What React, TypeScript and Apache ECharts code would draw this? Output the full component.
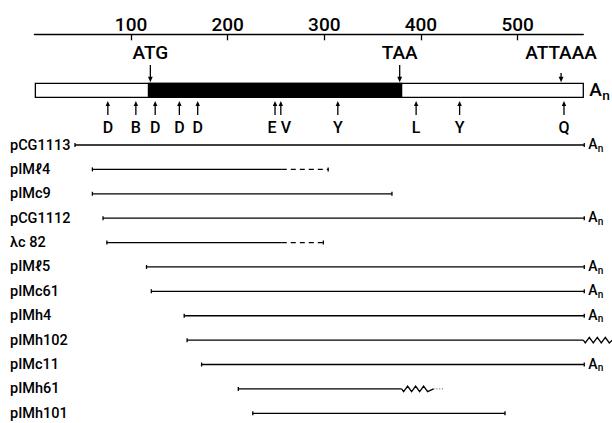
import React, { useEffect, useRef } from "react";
import * as echarts from "echarts";

// ---- data ----
const axisMin = 0;
const axisMax = 568;
const tickValues = [100, 200, 300, 400, 500];

const mrnaStart = 1;
const cdsStart = 118;
const cdsEnd = 380;
const mrnaEnd = 568;

const landmarkNames = ["ATG", "TAA", "ATTAAA"];
const landmarkPos = [120, 378, 545];

const siteNames = ["D", "B", "D", "D", "D", "E", "V", "Y", "L", "Y", "Q"];
const sitePos = [76, 105, 125, 150, 169, 249, 255, 314, 395, 440, 548];

const cloneNames = [
  "pCG1113", "pIMℓ4", "pIMc9", "pCG1112", "λc 82", "pIMℓ5",
  "pIMc61", "pIMh4", "pIMh102", "pIMc11", "pIMh61", "pIMh101",
];
const cloneStart = [42, 60, 60, 71, 75, 116, 121, 155, 158, 173, 211, 226];
const cloneSolidEnd = [569, 256, 370, 569, 256, 569, 569, 569, 568, 569, 380, 487];
// extension after the solid part: none | dashed | zigzag
const cloneExtType = ["none", "dashed", "none", "none", "dashed", "none", "none", "none", "zigzag", "none", "zigzag", "none"];
const cloneExtEnd = [569, 304, 370, 569, 299, 569, 569, 569, 598, 569, 413, 487];
const cloneTailEnd = [0, 0, 0, 0, 0, 0, 0, 0, 0, 0, 423, 0]; // dotted tail
const clonePolyA = [true, false, false, true, false, true, true, true, false, true, false, false];

// ---- style / layout ----
const FONT = "Roboto, 'Liberation Sans', sans-serif";
const FW = 500;
const GRID_LEFT = 34.4;
const GRID_RIGHT = 28.7;
const AXIS_Y = 34.3;
const BAR_TOP = 83.3;
const BAR_BOTTOM = 97.3;
const LW = 1.3;
const siteLabelDx = [0, 0, 0, 0, 0, -3, 5, 0, 0, 0, 0];

function downArrow(x: number, y1: number, tip: number) {
  return [
    { type: "line", shape: { x1: x, y1, x2: x, y2: tip - 3 }, style: { stroke: "#000", lineWidth: LW } },
    { type: "polygon", shape: { points: [[x, tip], [x - 2.4, tip - 5.5], [x + 2.4, tip - 5.5]] }, style: { fill: "#000" } },
  ];
}
function upArrow(x: number, y1: number, tip: number) {
  return [
    { type: "line", shape: { x1: x, y1, x2: x, y2: tip + 3 }, style: { stroke: "#000", lineWidth: LW } },
    { type: "polygon", shape: { points: [[x, tip], [x - 2.2, tip + 5], [x + 2.2, tip + 5]] }, style: { fill: "#000" } },
  ];
}
function zigzag(xa: number, xb: number, y: number, amp: number, period: number) {
  const pts: number[][] = [[xa, y]];
  let x = xa;
  let k = 0;
  while (x + period / 2 <= xb + 0.01) {
    x += period / 2;
    pts.push([x - period / 4, k % 2 === 0 ? y + amp : y - amp]);
    k++;
  }
  pts.push([xb, y]);
  return { type: "polyline", shape: { points: pts }, style: { stroke: "#000", lineWidth: LW, fill: "none" } };
}
function polyA(x: number, y: number, size: number) {
  return [
    { type: "text", x, y, style: { text: "A", fontSize: size, fontWeight: FW, fontFamily: FONT, fill: "#000", align: "left", verticalAlign: "middle" } },
    { type: "text", x: x + size * 0.68, y: y + size * 0.3, style: { text: "n", fontSize: size * 0.72, fontWeight: FW, fontFamily: FONT, fill: "#000", align: "left", verticalAlign: "middle" } },
  ];
}

export default function App() {
  const ref = useRef<HTMLDivElement>(null);
  useEffect(() => {
    if (!ref.current) return;
    const chart = echarts.init(ref.current, undefined, { renderer: "svg" });
    const option: any = {
      animation: false,
      backgroundColor: "#fff",
      grid: [
        { left: GRID_LEFT, right: GRID_RIGHT, top: AXIS_Y, height: 90, outerBoundsMode: "none" },
        { left: GRID_LEFT, right: GRID_RIGHT, top: 145, bottom: 9.7, outerBoundsMode: "none" },
      ],
      xAxis: [
        {
          gridIndex: 0, type: "value", position: "top", min: axisMin, max: axisMax,
          axisLine: { show: true, onZero: false, lineStyle: { color: "#000", width: LW } },
          axisTick: { show: true, inside: true, length: 6, customValues: tickValues, lineStyle: { color: "#000", width: LW } },
          axisLabel: { customValues: tickValues, color: "#000", fontSize: 19, fontWeight: FW, fontFamily: FONT, margin: 10, verticalAlign: "middle" },
          splitLine: { show: false },
        },
        {
          gridIndex: 1, type: "value", min: axisMin, max: axisMax, show: false,
        },
      ],
      yAxis: [
        { gridIndex: 0, type: "value", min: 0, max: 100, show: false },
        {
          gridIndex: 1, type: "category", data: cloneNames, inverse: true, boundaryGap: false,
          axisLine: { show: false }, axisTick: { show: false }, splitLine: { show: false },
          axisLabel: { interval: 0, align: "left", margin: GRID_LEFT - 10, fontSize: 14.5, fontWeight: FW, color: "#000", fontFamily: FONT },
        },
      ],
      series: [
        {
          type: "custom", xAxisIndex: 0, yAxisIndex: 0, silent: true,
          data: [[mrnaStart, cdsStart, cdsEnd, mrnaEnd]],
          renderItem: (params: any, api: any) => {
            const xs = api.coord([api.value(0), 0])[0];
            const xc1 = api.coord([api.value(1), 0])[0];
            const xc2 = api.coord([api.value(2), 0])[0];
            const xe = api.coord([api.value(3), 0])[0];
            return {
              type: "group",
              children: [
                { type: "rect", shape: { x: xs, y: BAR_TOP, width: xe - xs, height: BAR_BOTTOM - BAR_TOP }, style: { fill: "#fff", stroke: "#000", lineWidth: LW } },
                { type: "rect", shape: { x: xc1, y: BAR_TOP, width: xc2 - xc1, height: BAR_BOTTOM - BAR_TOP }, style: { fill: "#000", stroke: "#000", lineWidth: LW } },
                ...polyA(xe + 6, 89, 19),
              ],
            };
          },
        },
        {
          type: "custom", xAxisIndex: 0, yAxisIndex: 0, silent: true,
          data: landmarkPos.map((p, i) => [p, i]),
          renderItem: (params: any, api: any) => {
            const i = params.dataIndex;
            const x = api.coord([api.value(0), 0])[0];
            const y1 = i === 2 ? 73 : 65;
            return {
              type: "group",
              children: [
                { type: "text", x, y: 52.5, style: { text: landmarkNames[i], fontSize: 19, fontWeight: FW, fontFamily: FONT, fill: "#000", align: "center", verticalAlign: "middle" } },
                ...downArrow(x, y1, BAR_TOP - 1),
              ],
            };
          },
        },
        {
          type: "custom", xAxisIndex: 0, yAxisIndex: 0, silent: true,
          data: sitePos.map((p, i) => [p, i]),
          renderItem: (params: any, api: any) => {
            const i = params.dataIndex;
            const x = api.coord([api.value(0), 0])[0];
            return {
              type: "group",
              children: [
                ...upArrow(x, 115, 101),
                { type: "text", x: x + siteLabelDx[i], y: 127, style: { text: siteNames[i], fontSize: 16, fontWeight: FW, fontFamily: FONT, fill: "#000", align: "center", verticalAlign: "middle" } },
              ],
            };
          },
        },
        {
          type: "custom", xAxisIndex: 1, yAxisIndex: 1, silent: true,
          data: cloneStart.map((s, i) => [s, i, cloneSolidEnd[i], cloneExtEnd[i], cloneTailEnd[i]]),
          renderItem: (params: any, api: any) => {
            const i = params.dataIndex;
            const p0 = api.coord([api.value(0), api.value(1)]);
            const y = p0[1];
            const x0 = p0[0];
            const x1 = api.coord([api.value(2), api.value(1)])[0];
            const x2 = api.coord([api.value(3), api.value(1)])[0];
            const kids: any[] = [];
            kids.push({ type: "line", shape: { x1: x0, y1: y - 2, x2: x0, y2: y + 2 }, style: { stroke: "#000", lineWidth: LW } });
            kids.push({ type: "line", shape: { x1: x0, y1: y, x2: x1, y2: y }, style: { stroke: "#000", lineWidth: LW } });
            let endX = x1;
            const ext = cloneExtType[i];
            if (ext === "dashed") {
              kids.push({ type: "line", shape: { x1, y1: y, x2, y2: y }, style: { stroke: "#000", lineWidth: LW, lineDash: [5, 4] } });
              endX = x2;
            } else if (ext === "zigzag") {
              kids.push(zigzag(x1, x2, y, 2.8, 8));
              endX = x2;
            }
            if (cloneTailEnd[i] > 0) {
              const x3 = api.coord([api.value(4), api.value(1)])[0];
              kids.push({ type: "line", shape: { x1: x2, y1: y, x2: x3, y2: y }, style: { stroke: "#444", lineWidth: 0.8, lineDash: [1.2, 1.6] } });
            } else if (ext !== "zigzag") {
              kids.push({ type: "line", shape: { x1: endX, y1: y - 2, x2: endX, y2: y + 2 }, style: { stroke: "#000", lineWidth: LW } });
            }
            if (clonePolyA[i]) kids.push(...polyA(endX + 4, y - 1, 14));
            return { type: "group", children: kids };
          },
        },
      ],
    };
    chart.setOption(option);
    return () => chart.dispose();
  }, []);
  return <div ref={ref} style={{ position: "absolute", left: 0, top: 0, width: 612, height: 423 }} />;
}
